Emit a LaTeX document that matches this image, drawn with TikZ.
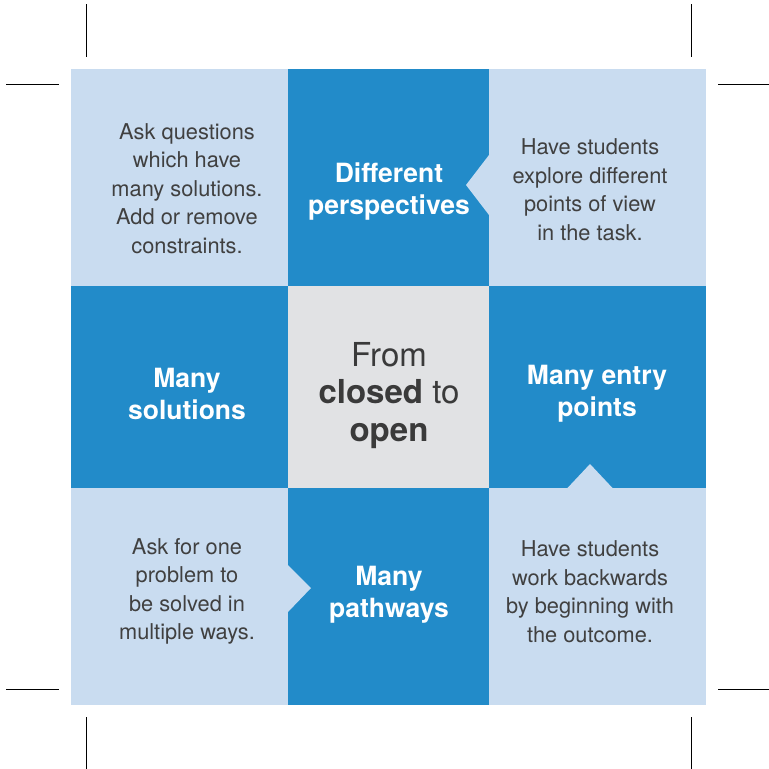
\documentclass[tikz,border=0pt]{standalone}
\usepackage{fontspec}
\setmainfont{TeX Gyre Heros}
\usepackage{tikz}
\usetikzlibrary{positioning}
\definecolor{deepblue}{HTML}{228BC9}
\definecolor{paleblue}{HTML}{C9DCF0}
\definecolor{midgray}{HTML}{E1E2E4}
\definecolor{inkgray}{HTML}{404040}
\tikzset{
    cell/.style={rectangle, inner sep=0pt, outer sep=0pt, anchor=north west},
    tiptext/.style={text=inkgray, align=center, inner sep=0pt, font=\fontsize{21.8}{28.5}\selectfont},
    headtext/.style={text=white, align=center, inner sep=0pt, font=\fontsize{26.5}{32}\selectfont\bfseries},
    coretext/.style={text=inkgray!90!black, align=center, inner sep=0pt, font=\fontsize{33}{37.5}\selectfont},
    cropmark/.style={line width=1pt, black},
}

\begin{document}
\begin{tikzpicture}[x=1pt, y=-1pt]
    \useasboundingbox (0,0) rectangle (769,769);
    % the nine cells
    \foreach \cx/\cy/\cw/\ch/\cc/\nm in {
        71/69/217/217/paleblue/c11, 288/69/201/217/deepblue/c12, 489/69/217/217/paleblue/c13,
        71/286/217/202/deepblue/c21, 288/286/201/202/midgray/c22, 489/286/217/202/deepblue/c23,
        71/488/217/217/paleblue/c31, 288/488/201/217/deepblue/c32, 489/488/217/217/paleblue/c33} {
        \node[cell, fill=\cc, minimum width=\cw pt, minimum height=\ch pt] (\nm) at (\cx,\cy) {};
    }
    % notches
    \fill[paleblue] (489,155) -- (466,185) -- (489,215) -- cycle;
    \fill[paleblue] (288,565) -- (311,588) -- (288,612) -- cycle;
    \fill[paleblue] (567,488.5) -- (590,464) -- (613,488.5) -- cycle;

    \node[tiptext] (asktext) at (187,188.5) {Ask questions\\which have\\many solutions.\\Add or remove\\constraints.};
    \node[headtext] (persptext) at (389,191.5) {Different\\perspectives};
    \node[tiptext] (viewtext) at (590,189.5) {Have students\\explore different\\points of view\\in the task.};
    \node[headtext] (soltext) at (187,393.5) {Many\\solutions};
    \node[coretext] (coretitle) at (389,395.5) {From\\\textbf{closed} to\\\textbf{open}};
    \node[headtext] (entrytext) at (597,393.5) {Many entry\\points};
    \node[tiptext] (waystext) at (187,591.5) {Ask for one\\problem to\\be solved in\\multiple ways.};
    \node[headtext] (pathtext) at (389,594.5) {Many\\pathways};
    \node[tiptext] (backtext) at (590,591.5) {Have students\\work backwards\\by beginning with\\the outcome.};

    % crop marks
    \foreach \mx in {86,691} {
        \draw[cropmark] (\mx,4) -- (\mx,57);
        \draw[cropmark] (\mx,717) -- (\mx,769);
    }
    \foreach \my in {84,689} {
        \draw[cropmark] (6,\my) -- (59,\my);
        \draw[cropmark] (718,\my) -- (769,\my);
    }
\end{tikzpicture}
\end{document}
